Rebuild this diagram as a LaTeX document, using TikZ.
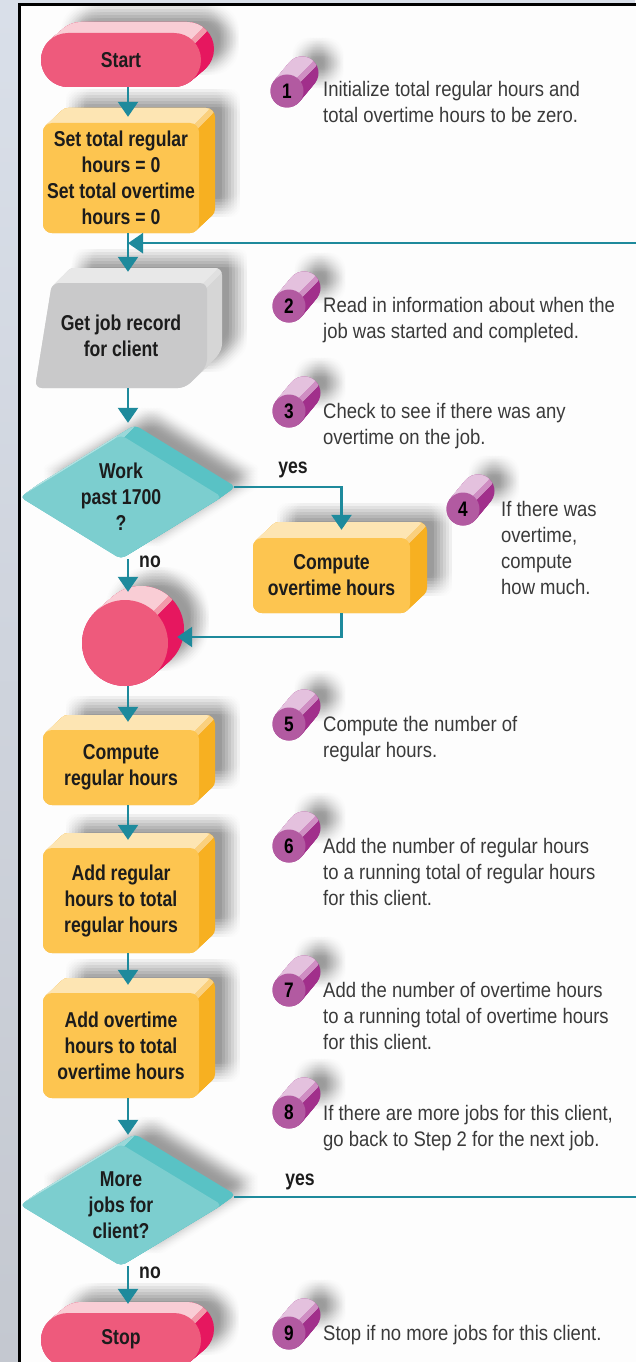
\documentclass[tikz,border=0pt]{standalone}
\usepackage{fontspec}
\setmainfont{Liberation Sans}[FakeStretch=0.88,BoldFeatures={FakeStretch=0.82}]
\usetikzlibrary{calc,arrows.meta}
\pgfdeclarelayer{bg}
\pgfsetlayers{bg,main}

% palette
\definecolor{arrowteal}{HTML}{1E8A9C}
\definecolor{ink}{HTML}{1C1C1C}
\definecolor{desc}{HTML}{3A3A3A}
\definecolor{skytop}{HTML}{D9DFE9}
\definecolor{skybot}{HTML}{C4C8D0}
\definecolor{paper}{HTML}{FDFDFD}
\definecolor{pnk}{HTML}{EE5A7C}
\definecolor{pnktop}{HTML}{F9CDD5}
\definecolor{pnkbev}{HTML}{F29AAA}
\definecolor{pnkside}{HTML}{E6175F}
\definecolor{yel}{HTML}{FDC550}
\definecolor{yeltop}{HTML}{FDE5B3}
\definecolor{yelbev}{HTML}{FAD07E}
\definecolor{yelside}{HTML}{F7B021}
\definecolor{gry}{HTML}{C9C9CA}
\definecolor{grytop}{HTML}{E8E8E8}
\definecolor{grybev}{HTML}{E0E0E0}
\definecolor{gryside}{HTML}{D6D6D6}
\definecolor{cyn}{HTML}{7CCECF}
\definecolor{cyntop}{HTML}{B2E2E2}
\definecolor{cynbev}{HTML}{9AD8D9}
\definecolor{cynside}{HTML}{59C2C5}
\definecolor{pur}{HTML}{B25AA1}
\definecolor{purtop}{HTML}{E4C1DE}
\definecolor{purbev}{HTML}{CF8EC3}
\definecolor{purside}{HTML}{A12F8B}

% Extruded solid: #1 outline, #2 colour prefix, #3/#4 depth vector,
% #5/#6 point where the top face meets the side face
\newcommand\solid[6]{%
  \begin{pgfonlayer}{bg}
    \foreach \jx in {-9,-6,...,9}{\foreach \jy in {-9,-6,...,9}{%
      \fill[black,fill opacity=0.0085,shift={({(#3)+16+\jx},{(#4)-10+\jy})}] #1;}}
    \foreach \t in {14,13,...,0}{\fill[#2side,shift={({\t*(#3)/14},{\t*(#4)/14})}] #1;}
    \begin{scope}
      \clip ({#5+4+2000},{#6-2000}) -- ({#5+4-2000},{#6+2000}) -- ({#5+4-2000},{#6-2000}) -- cycle;
      \foreach \t in {14,13,...,1}{\fill[#2bev,shift={({\t*(#3)/14},{\t*(#4)/14})}] #1;}
    \end{scope}
    \begin{scope}
      \clip ({#5-4+2000},{#6-2000}) -- ({#5-4-2000},{#6+2000}) -- ({#5-4-2000},{#6-2000}) -- cycle;
      \foreach \t in {14,13,...,1}{\fill[#2top,shift={({\t*(#3)/14},{\t*(#4)/14})}] #1;}
    \end{scope}
    \fill[#2] #1;
  \end{pgfonlayer}}

% numbered step marker (small cylinder)
\newcommand\stepbubble[4]{%
  \solid{(#2,#3) circle [radius=16.5]}{pur}{15}{-18}{#2+11.7}{#3-11.7}
  \node[stepnum] (#1) at (#2,#3) {#4};}

\tikzset{
  facetext/.style={inner sep=0pt, align=center, text=ink,
    font=\bfseries\fontsize{21.5}{26}\selectfont},
  flowarrow/.style={draw=arrowteal, line width=2.5pt,
    -{Triangle[width=20pt,length=15pt]}},
  branchlabel/.style={text=ink, inner sep=0pt,
    font=\bfseries\fontsize{21.5}{24}\selectfont},
  notetext/.style={anchor=north west, inner sep=0pt, align=left, text=desc,
    font=\fontsize{21}{26}\selectfont},
  stepnum/.style={circle, inner sep=0pt, minimum size=33pt, text=black,
    font=\bfseries\fontsize{21}{21}\selectfont},
}

\begin{document}
\begin{tikzpicture}[x=1pt,y=-1pt]
\useasboundingbox (0,0) rectangle (635,1362);

% backdrop and framed sheet
\begin{pgfonlayer}{bg}
  \shade[top color=skytop, bottom color=skybot] (0,0) rectangle (635,1362);
  \fill[paper] (19,5) rectangle (660,1380);
  \draw[line width=3pt] (19,1380) -- (19,5) -- (660,5);
\end{pgfonlayer}

\coordinate (spine) at (128,0);

% ---- flowchart shapes ----
\solid{[rounded corners=26.9pt] (41,33) rectangle (201,87)}{pnk}{13}{-11}{193.1}{40.9}
\node[facetext, minimum width=160pt, minimum height=54pt] (start) at (121,60) {Start};

\solid{[rounded corners=9pt] (43,123) rectangle (199,233)}{yel}{16}{-15}{196.4}{125.6}
\node[facetext, minimum width=156pt, minimum height=110pt] (init) at (121,178)
  {Set total regular\\hours = 0\\Set total overtime\\hours = 0};

\solid{[rounded corners=7pt] (35,388) -- (52,283) -- (207,283) -- (207,366) -- (185,388) -- cycle}{gry}{15}{-15}{205}{285}
\node[facetext, minimum width=172pt, minimum height=105pt] (getjob) at (121,335.5)
  {Get job record\\for client};

\solid{[rounded corners=5pt] (20,497) -- (121,435) -- (222,497) -- (121,559) -- cycle}{cyn}{14}{-10}{121}{436}
\node[facetext, minimum width=202pt, minimum height=124pt] (work) at (121,497)
  {Work\\past 1700\\?};

\solid{[rounded corners=9pt] (253,538) rectangle (410,613)}{yel}{17}{-16}{407.4}{540.6}
\node[facetext, minimum width=157pt, minimum height=75pt] (cot) at (331.5,575.5)
  {Compute\\overtime hours};

\solid{(125,643) circle [radius=43]}{pnk}{16}{-14}{155.4}{612.6}
\node[circle, inner sep=0pt, minimum size=86pt] (merge) at (125,643) {};

\solid{[rounded corners=9pt] (43,730) rectangle (199,805)}{yel}{16}{-15}{196.4}{732.6}
\node[facetext, minimum width=156pt, minimum height=75pt] (creg) at (121,767.5)
  {Compute\\regular hours};

\solid{[rounded corners=9pt] (43,848) rectangle (199,953)}{yel}{16}{-15}{196.4}{850.6}
\node[facetext, minimum width=156pt, minimum height=105pt] (areg) at (121,900.5)
  {Add regular\\hours to total\\regular hours};

\solid{[rounded corners=9pt] (43,993) rectangle (199,1098)}{yel}{16}{-15}{196.4}{995.6}
\node[facetext, minimum width=156pt, minimum height=105pt] (aot) at (121,1045.5)
  {Add overtime\\hours to total\\overtime hours};

\solid{[rounded corners=5pt] (20,1205) -- (121,1144) -- (222,1205) -- (121,1266) -- cycle}{cyn}{14}{-10}{121}{1145}
\node[facetext, minimum width=202pt, minimum height=122pt] (more) at (121,1205)
  {More\\jobs for\\client?};

\solid{[rounded corners=26.9pt] (41,1313) rectangle (201,1367)}{pnk}{13}{-11}{193.1}{1320.9}
\node[facetext, minimum width=160pt, minimum height=54pt] (stop) at (121,1339) {Stop};

% ---- connectors ----
\coordinate (join) at ($(init.south -| spine)+(0,10)$);
\draw[flowarrow] (start.south -| spine) -- ($(init.north -| spine)+(0,-6)$);
\draw[flowarrow] (init.south -| spine) -- ($(getjob.north -| spine)+(0,-11)$);
\draw[flowarrow] (getjob.south -| spine) -- ($(work.north -| spine)+(0,-12)$);
\draw[flowarrow] ($(work.east)+(12,-10)$) -| ($(cot.north)+(10,-8)$);
\draw[flowarrow] (work.south -| spine) -- ($(merge.north -| spine)+(0,-8)$);
\draw[flowarrow] ($(cot.south)+(10,0)$) |- ($(merge.east)+(9,-6)$);
\draw[flowarrow] (merge.south -| spine) -- ($(creg.north -| spine)+(0,-8)$);
\draw[flowarrow] (creg.south -| spine) -- ($(areg.north -| spine)+(0,-8)$);
\draw[flowarrow] (areg.south -| spine) -- ($(aot.north -| spine)+(0,-8)$);
\draw[flowarrow] (aot.south -| spine) -- ($(more.north -| spine)+(0,-9)$);
\draw[flowarrow] (more.south -| spine) -- ($(stop.north -| spine)+(0,-8)$);
\draw[flowarrow] ($(more.east)+(12,-8)$) -- ++(431,0) |- (join);

\node[branchlabel] (yes1) at (293,470) {yes};
\node[branchlabel] (no1) at (150,562) {no};
\node[branchlabel] (yes2) at (300,1182) {yes};
\node[branchlabel] (no2) at (150,1273) {no};

% ---- numbered notes ----
\stepbubble{s1}{287}{91}{1}
\node[notetext] (n1) at (323,81.5) {Initialize total regular hours and\\total overtime hours to be zero.};
\stepbubble{s2}{289}{306}{2}
\node[notetext] (n2) at (323,297.5) {Read in information about when the\\job was started and completed.};
\stepbubble{s3}{289}{411}{3}
\node[notetext] (n3) at (323,403.5) {Check to see if there was any\\overtime on the job.};
\stepbubble{s4}{463}{509}{4}
\node[notetext] (n4) at (501,501.5) {If there was\\overtime,\\compute\\how much.};
\stepbubble{s5}{289}{724}{5}
\node[notetext] (n5) at (323,716.5) {Compute the number of\\regular hours.};
\stepbubble{s6}{289}{846}{6}
\node[notetext] (n6) at (323,838.5) {Add the number of regular hours\\to a running total of regular hours\\for this client.};
\stepbubble{s7}{289}{990}{7}
\node[notetext] (n7) at (323,982.5) {Add the number of overtime hours\\to a running total of overtime hours\\for this client.};
\stepbubble{s8}{289}{1112}{8}
\node[notetext] (n8) at (323,1105.5) {If there are more jobs for this client,\\go back to Step 2 for the next job.};
\stepbubble{s9}{289}{1333}{9}
\node[notetext] (n9) at (323,1325.5) {Stop if no more jobs for this client.};
\end{tikzpicture}
\end{document}
